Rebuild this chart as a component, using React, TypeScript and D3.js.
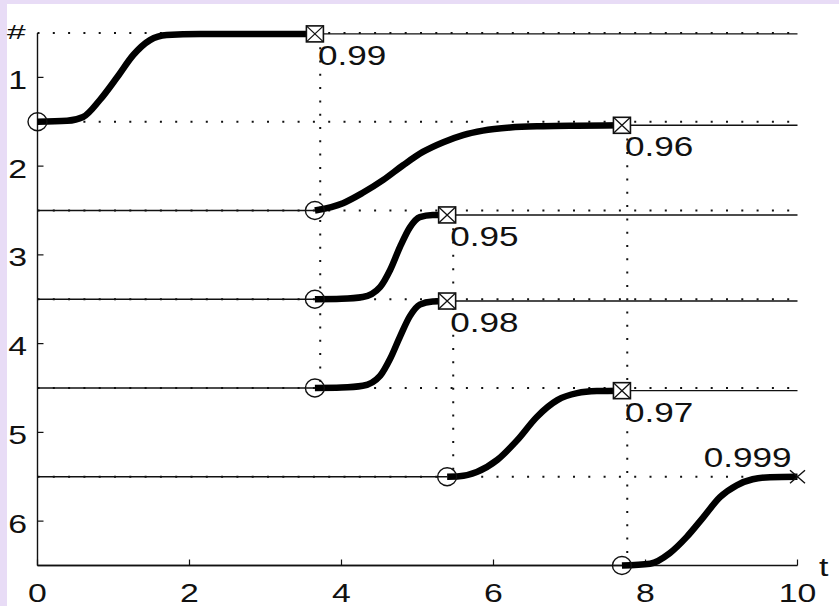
import React from 'react';
import * as d3 from 'd3';

// one row per task: start/end time, success probability and its label
const rowIds = [1, 2, 3, 4, 5, 6];
const startTimes = [0, 3.65, 3.65, 3.65, 5.39, 7.69];
const endTimes = [3.65, 7.69, 5.39, 5.39, 7.69, 10];
const probabilities = [0.99, 0.96, 0.95, 0.98, 0.97, 0.999];
const probLabels = ['0.99', '0.96', '0.95', '0.98', '0.97', '0.999'];

// progress curves, [t, level]
const curve1 = [[0, 1.5], [0.39, 1.49], [0.6, 1.447], [0.82, 1.255], [1.05, 0.996], [1.26, 0.748], [1.48, 0.58], [1.7, 0.523], [2.14, 0.512], [3.65, 0.51]];
const curve2 = [[3.65, 2.5], [4.02, 2.417], [4.28, 2.3], [4.55, 2.155], [4.81, 1.99], [5.07, 1.84], [5.34, 1.73], [5.6, 1.65], [5.86, 1.6], [6.22, 1.565], [6.65, 1.55], [7.1, 1.544], [7.69, 1.54]];
const curve3 = [[3.65, 3.5], [4.0, 3.495], [4.28, 3.475], [4.51, 3.36], [4.64, 3.17], [4.77, 2.91], [4.9, 2.69], [5.03, 2.575], [5.2, 2.552], [5.39, 2.55]];
const curve4 = [[3.65, 4.5], [4.0, 4.495], [4.28, 4.475], [4.51, 4.36], [4.64, 4.17], [4.77, 3.92], [4.9, 3.69], [5.03, 3.56], [5.2, 3.525], [5.39, 3.52]];
const curve5 = [[5.39, 5.5], [5.55, 5.495], [5.78, 5.446], [6.05, 5.31], [6.31, 5.09], [6.57, 4.826], [6.84, 4.637], [7.1, 4.558], [7.36, 4.535], [7.69, 4.53]];
const curve6 = [[7.69, 6.5], [8.06, 6.48], [8.32, 6.36], [8.54, 6.18], [8.76, 5.957], [8.98, 5.73], [9.2, 5.596], [9.41, 5.528], [9.64, 5.505], [10, 5.501]];
const curves = [curve1, curve2, curve3, curve4, curve5, curve6];

// dependency links (dotted verticals)
const linkTimes = [3.72, 5.47, 7.76];
const linkFrom = [0.51, 2.55, 1.54];
const linkTo = [4.5, 5.5, 6.5];

const gridLevels = [0.5, 1.5, 2.5, 3.5, 4.5, 5.5];
const xTicks = [0, 2, 4, 6, 8, 10];
const yTicks = [1, 2, 3, 4, 5, 6];

const W = 839;
const H = 606;
const FONT = '"Liberation Sans", Arial, sans-serif';
const SX = 1.3;

const x = d3.scaleLinear().domain([0, 10]).range([37.5, 797.5]);
const y = d3.scaleLinear().domain([0.5, 6.5]).range([33, 565.5]);

const Txt = ({ px, py, anchor = 'start', size = 26, sx = SX, children }: any) => (
  <text
    transform={`translate(${px},${py}) scale(${sx},1)`}
    textAnchor={anchor}
    fontSize={size}
    fontFamily={FONT}
    fill="#111"
  >
    {children}
  </text>
);

export default function App() {
  const line = d3
    .line<number[]>()
    .x((d) => x(d[0]))
    .y((d) => y(d[1]))
    .curve(d3.curveMonotoneX);

  const startLevel = (i: number) => rowIds[i] + 0.5;
  const endLevel = (i: number) => rowIds[i] + 0.5 - probabilities[i];

  return (
    <svg width={W} height={H} style={{ position: 'absolute', left: 0, top: 0 }}>
      <rect width={W} height={H} fill="#e8dcf6" />
      <rect x={7} y={4} width={W - 7} height={H - 4} fill="#fff" />

      {/* dotted grid at half levels */}
      {gridLevels.map((g) => (
        <line key={'g' + g} x1={x(0)} x2={x(10)} y1={y(g)} y2={y(g)}
          stroke="#111" strokeWidth={2} strokeDasharray="2 13.3" />
      ))}
      {linkTimes.map((t, i) => (
        <line key={'l' + i} x1={x(t)} x2={x(t)} y1={y(linkFrom[i])} y2={y(linkTo[i])}
          stroke="#111" strokeWidth={2} strokeDasharray="2 11.3" />
      ))}

      {/* thin waiting / done lines */}
      {rowIds.map((r, i) => (
        <g key={'w' + r}>
          {startTimes[i] > 0 && (
            <line x1={x(0)} x2={x(startTimes[i])} y1={y(startLevel(i))} y2={y(startLevel(i))}
              stroke="#111" strokeWidth={1.4} />
          )}
          {endTimes[i] < 10 && (
            <line x1={x(endTimes[i])} x2={x(10)} y1={y(endLevel(i))} y2={y(endLevel(i))}
              stroke="#111" strokeWidth={1.4} />
          )}
        </g>
      ))}

      {/* axes */}
      <line x1={x(0)} x2={x(0)} y1={y(0.5)} y2={y(6.5)} stroke="#111" strokeWidth={1.4} />
      <line x1={x(0)} x2={x(10)} y1={y(6.5)} y2={y(6.5)} stroke="#111" strokeWidth={1.4} />
      {yTicks.map((t) => (
        <g key={'yt' + t}>
          <line x1={x(0)} x2={x(0) + 6} y1={y(t)} y2={y(t)} stroke="#111" strokeWidth={1.2} />
          <Txt px={27} py={y(t) + 11.5} anchor="end">{t}</Txt>
        </g>
      ))}
      {xTicks.map((t) => (
        <g key={'xt' + t}>
          <line x1={x(t)} x2={x(t)} y1={y(6.5)} y2={y(6.5) - 6} stroke="#111" strokeWidth={1.2} />
          <Txt px={x(t)} py={602} anchor="middle">{t}</Txt>
        </g>
      ))}
      <Txt px={819} py={576}>t</Txt>
      <Txt px={7} py={39} size={21} sx={1.6}>#</Txt>

      {/* progress curves */}
      {curves.map((c, i) => (
        <path key={'c' + i} d={line(c as number[][]) || ''} fill="none" stroke="#000" strokeWidth={6.5} />
      ))}

      {/* markers and labels */}
      {rowIds.map((r, i) => {
        const sx0 = x(startTimes[i]);
        const sy0 = y(startLevel(i));
        const ex = x(endTimes[i]);
        const ey = y(endLevel(i));
        const last = i === rowIds.length - 1;
        return (
          <g key={'m' + r}>
            <ellipse cx={sx0} cy={sy0} rx={9.5} ry={9} fill="none" stroke="#111" strokeWidth={1.4} />
            {last ? (
              <>
                <path d={`M${ex - 7.5},${ey - 6.5}L${ex + 7.5},${ey + 6.5}M${ex - 7.5},${ey + 6.5}L${ex + 7.5},${ey - 6.5}`}
                  stroke="#111" strokeWidth={1.4} fill="none" />
                <Txt px={ex - 6} py={ey - 9.5} anchor="end" size={27}>{probLabels[i]}</Txt>
              </>
            ) : (
              <>
                <rect x={ex - 8.5} y={ey - 8} width={17} height={16} fill="#fff" stroke="#111" strokeWidth={1.6} />
                <path d={`M${ex - 8.5},${ey - 8}L${ex + 8.5},${ey + 8}M${ex - 8.5},${ey + 8}L${ex + 8.5},${ey - 8}`}
                  stroke="#111" strokeWidth={1.3} fill="none" />
                <Txt px={ex + 3} py={ey + 31} size={27}>{probLabels[i]}</Txt>
              </>
            )}
          </g>
        );
      })}
    </svg>
  );
}
